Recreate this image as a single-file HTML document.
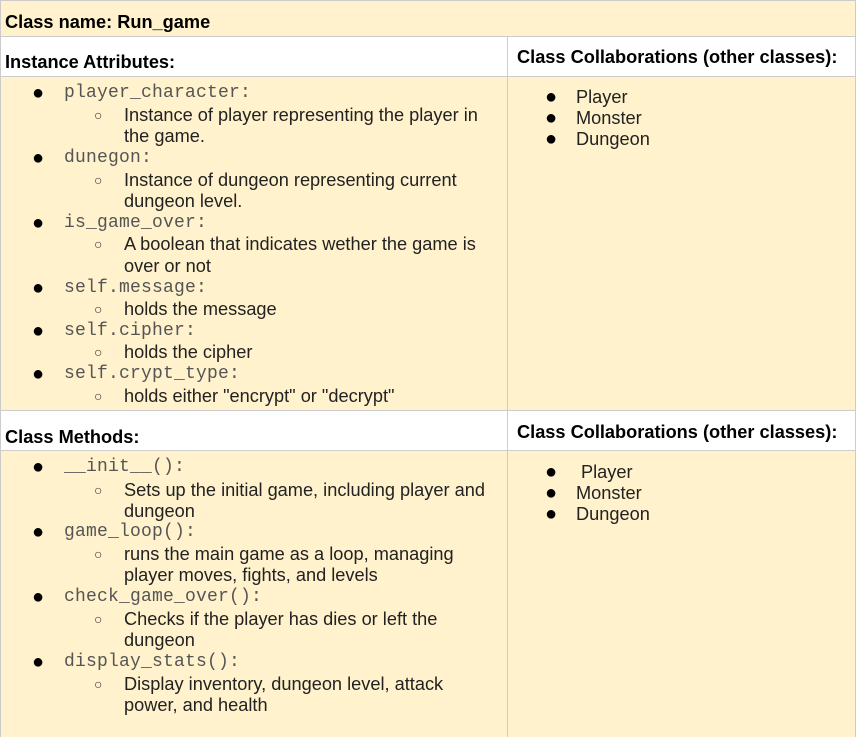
<!DOCTYPE html><html><head><style>
body{margin:0;width:856px;height:737px;position:relative;background:#fff;font-family:"Liberation Sans",Arial,sans-serif;overflow:hidden}
.b{position:absolute;box-sizing:border-box}
.t{position:absolute;line-height:22px;font-size:18.2px;color:#222;white-space:nowrap}
.m{font-family:"Liberation Mono","Courier New",monospace;font-size:18px;color:#555;letter-spacing:0.2px}
.h{font-weight:bold;color:#000;font-size:18.2px}
.d{font-size:20px;color:#000}
.c{font-size:14px;color:#333}
</style></head><body>
<div class="b" style="left:0;top:0;width:856px;height:37px;background:#fff2cc"></div>
<div class="b" style="left:0;top:76px;width:856px;height:334px;background:#fff2cc"></div>
<div class="b" style="left:0;top:450px;width:856px;height:287px;background:#fff2cc"></div>
<div class="b" style="left:0;top:0;width:856px;height:1px;background:#ccc"></div>
<div class="b" style="left:0;top:36px;width:856px;height:1px;background:#ccc"></div>
<div class="b" style="left:0;top:76px;width:856px;height:1px;background:#ccc"></div>
<div class="b" style="left:0;top:410px;width:856px;height:1px;background:#ccc"></div>
<div class="b" style="left:0;top:450px;width:856px;height:1px;background:#ccc"></div>
<div class="b" style="left:0;top:0;width:1px;height:737px;background:#ccc"></div>
<div class="b" style="left:855px;top:0;width:1px;height:737px;background:#ccc"></div>
<div class="b" style="left:507px;top:36px;width:1px;height:701px;background:#ccc"></div>

<div class="t h" style="left:5px;top:11px">Class name: Run_game</div>
<div class="t h" style="left:5px;top:51px">Instance Attributes:</div>
<div class="t h" style="left:517px;top:46px">Class Collaborations (other classes):</div>
<div class="t h" style="left:5px;top:426px">Class Methods:</div>
<div class="t h" style="left:517px;top:421px">Class Collaborations (other classes):</div>

<div class="t d" style="left:32px;top:82px">●</div><div class="t m" style="left:64px;top:82px">player_character:</div>
<div class="t c" style="left:94px;top:104px">○</div><div class="t" style="left:124px;top:104px">Instance of player representing the player in</div>
<div class="t" style="left:124px;top:125px">the game.</div>
<div class="t d" style="left:32px;top:147px">●</div><div class="t m" style="left:64px;top:147px">dunegon:</div>
<div class="t c" style="left:94px;top:169px">○</div><div class="t" style="left:124px;top:169px">Instance of dungeon representing current</div>
<div class="t" style="left:124px;top:190px">dungeon level.</div>
<div class="t d" style="left:32px;top:212px">●</div><div class="t m" style="left:64px;top:212px">is_game_over:</div>
<div class="t c" style="left:94px;top:233px">○</div><div class="t" style="left:124px;top:233px">A boolean that indicates wether the game is</div>
<div class="t" style="left:124px;top:255px">over or not</div>
<div class="t d" style="left:32px;top:277px">●</div><div class="t m" style="left:64px;top:277px">self.message:</div>
<div class="t c" style="left:94px;top:298px">○</div><div class="t" style="left:124px;top:298px">holds the message</div>
<div class="t d" style="left:32px;top:320px">●</div><div class="t m" style="left:64px;top:320px">self.cipher:</div>
<div class="t c" style="left:94px;top:341px">○</div><div class="t" style="left:124px;top:341px">holds the cipher</div>
<div class="t d" style="left:32px;top:363px">●</div><div class="t m" style="left:64px;top:363px">self.crypt_type:</div>
<div class="t c" style="left:94px;top:385px">○</div><div class="t" style="left:124px;top:385px">holds either "encrypt" or "decrypt"</div>

<div class="t d" style="left:545px;top:86px">●</div><div class="t" style="left:576px;top:86px">Player</div>
<div class="t d" style="left:545px;top:107px">●</div><div class="t" style="left:576px;top:107px">Monster</div>
<div class="t d" style="left:545px;top:128px">●</div><div class="t" style="left:576px;top:128px">Dungeon</div>

<div class="t d" style="left:32px;top:456px">●</div><div class="t m" style="left:64px;top:456px">__init__():</div>
<div class="t c" style="left:94px;top:479px">○</div><div class="t" style="left:124px;top:479px">Sets up the initial game, including player and</div>
<div class="t" style="left:124px;top:500px">dungeon</div>
<div class="t d" style="left:32px;top:521px">●</div><div class="t m" style="left:64px;top:521px">game_loop():</div>
<div class="t c" style="left:94px;top:543px">○</div><div class="t" style="left:124px;top:543px">runs the main game as a loop, managing</div>
<div class="t" style="left:124px;top:564px">player moves, fights, and levels</div>
<div class="t d" style="left:32px;top:586px">●</div><div class="t m" style="left:64px;top:586px">check_game_over():</div>
<div class="t c" style="left:94px;top:608px">○</div><div class="t" style="left:124px;top:608px">Checks if the player has dies or left the</div>
<div class="t" style="left:124px;top:629px">dungeon</div>
<div class="t d" style="left:32px;top:651px">●</div><div class="t m" style="left:64px;top:651px">display_stats():</div>
<div class="t c" style="left:94px;top:673px">○</div><div class="t" style="left:124px;top:673px">Display inventory, dungeon level, attack</div>
<div class="t" style="left:124px;top:694px">power, and health</div>

<div class="t d" style="left:545px;top:461px">●</div><div class="t" style="left:581px;top:461px">Player</div>
<div class="t d" style="left:545px;top:482px">●</div><div class="t" style="left:576px;top:482px">Monster</div>
<div class="t d" style="left:545px;top:503px">●</div><div class="t" style="left:576px;top:503px">Dungeon</div>
</body></html>
